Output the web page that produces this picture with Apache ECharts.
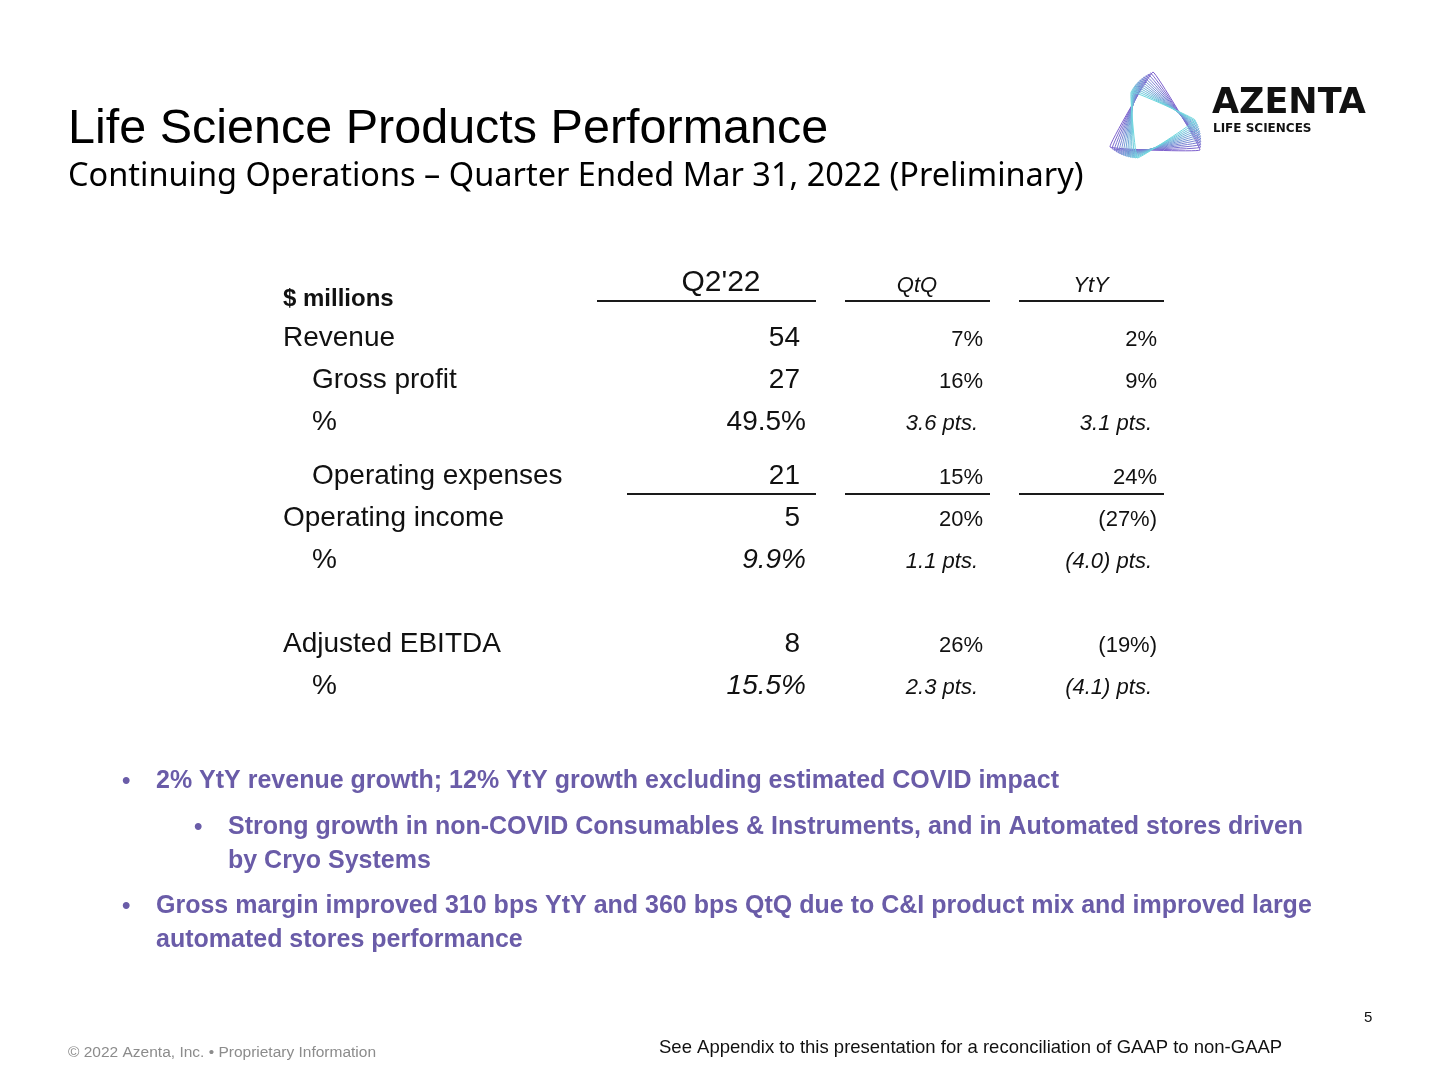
<!DOCTYPE html>
<html><head><meta charset="utf-8">
<script src="https://cdn.jsdelivr.net/npm/echarts@6/dist/echarts.min.js"></script>
<style>html,body{margin:0;padding:0;background:#fff}#c{width:1440px;height:1080px}</style>
</head><body><div id="c"></div>
<script>
// ---------- data ----------
const columns = ["Q2'22", 'QtQ', 'YtY'];
const rowLabelsTop = ['$ millions', 'Revenue', 'Gross profit', '%'];
const rowLabelsBottom = ['Operating expenses', 'Operating income', '%', '', 'Adjusted EBITDA', '%'];
const metrics = ['Revenue', 'Gross profit', 'Gross margin', 'Operating expenses', 'Operating income', 'Operating margin', 'Adjusted EBITDA', 'Adjusted EBITDA margin'];
const metricKind = ['amount', 'amount', 'margin', 'amount', 'amount', 'margin', 'amount', 'margin'];
const q2Values = [54, 27, 49.5, 21, 5, 9.9, 8, 15.5];
const qtqChange = [7, 16, 3.6, 15, 20, 1.1, 26, 2.3];
const ytyChange = [2, 9, 3.1, 24, -27, -4.0, -19, -4.1];
// which table (0 = upper, 1 = lower) and row slot each metric sits in
const metricSlot = [[0, 1], [0, 2], [0, 3], [1, 0], [1, 1], [1, 2], [1, 4], [1, 5]];
const bullets = [
  { level: 0, lines: ['2% YtY revenue growth; 12% YtY growth excluding estimated COVID impact'] },
  { level: 1, lines: ['Strong growth in non-COVID Consumables & Instruments, and in Automated stores driven', 'by Cryo Systems'] },
  { level: 0, lines: ['Gross margin improved 310 bps YtY and 360 bps QtQ due to C&I product mix and improved large', 'automated stores performance'] }
];

// ---------- styles ----------
const FONT = "'Liberation Sans', Arial, sans-serif";
const INK = '#111111';
const PURPLE = '#6a5ca8';
const indentTop = [0, 0, 1, 1];
const indentBottom = [1, 0, 1, 0, 0, 1];
const q2Italic = [false, false, false, false, false, true, false, true];

function fmtQ2(v, kind) { return kind === 'margin' ? v.toFixed(1) + '%' : String(v); }
function fmtChange(v, kind) {
  if (kind === 'margin') {
    const s = Math.abs(v).toFixed(1);
    return v < 0 ? '(' + s + ') pts.' : s + ' pts.';
  }
  return v < 0 ? '(' + Math.abs(v) + '%)' : v + '%';
}

const cells = [];
metrics.forEach((m, i) => {
  const [g, r] = metricSlot[i];
  const k = metricKind[i];
  cells.push({ g, r, c: 0, text: fmtQ2(q2Values[i], k), kind: k, italic: q2Italic[i] });
  cells.push({ g, r, c: 1, text: fmtChange(qtqChange[i], k), kind: k, italic: k === 'margin' });
  cells.push({ g, r, c: 2, text: fmtChange(ytyChange[i], k), kind: k, italic: k === 'margin' });
});

function cellSeries(g) {
  const list = cells.filter(d => d.g === g);
  return {
    type: 'custom', xAxisIndex: g, yAxisIndex: g, silent: true,
    data: list.map(d => [d.c, d.r]),
    encode: { x: 0, y: 1 },
    renderItem: function (params, api) {
      const d = list[params.dataIndex];
      const p = api.coord([d.c, d.r]);
      const bw = api.size([1, 0])[0];
      const right = p[0] + bw / 2;
      let size, pad, dy;
      if (d.c === 0) { size = 28; pad = d.kind === 'margin' ? 24 : 30; dy = 0; }
      else { size = 22; pad = d.kind === 'margin' ? 26 : 21; dy = 2; }
      return {
        type: 'text',
        style: {
          x: right - pad, y: p[1] + dy, text: d.text,
          font: (d.italic ? 'italic ' : '') + size + 'px ' + FONT,
          fill: INK, align: 'right', verticalAlign: 'middle'
        }
      };
    }
  };
}

function headerSeries() {
  return {
    type: 'custom', xAxisIndex: 0, yAxisIndex: 0, silent: true,
    data: columns.map((c, i) => [i, 0]),
    encode: { x: 0, y: 1 },
    renderItem: function (params, api) {
      const i = params.dataIndex;
      const p = api.coord([i, 0]);
      const bw = api.size([1, 0])[0];
      const left = p[0] - bw / 2, right = p[0] + bw / 2;
      const x1 = i === 0 ? left - 59 : left + 15;
      const x2 = right - 14;
      return {
        type: 'group',
        children: [
          { type: 'text', style: {
              x: i === 0 ? p[0] - 22 : p[0], y: i === 0 ? p[1] - 13 : p[1] - 10,
              text: columns[i],
              font: (i === 0 ? '' : 'italic ') + (i === 0 ? 30 : 22) + 'px ' + FONT,
              fill: INK, align: 'center', verticalAlign: 'middle' } },
          { type: 'line', shape: { x1: x1, y1: p[1] + 5, x2: x2, y2: p[1] + 5 },
            style: { stroke: '#1a1a1a', lineWidth: 2 } }
        ]
      };
    }
  };
}

function ruleSeries() {
  return {
    type: 'custom', xAxisIndex: 1, yAxisIndex: 1, silent: true,
    data: columns.map((c, i) => [i, 0]),
    encode: { x: 0, y: 1 },
    renderItem: function (params, api) {
      const i = params.dataIndex;
      const p = api.coord([i, 0]);
      const bw = api.size([1, 0])[0];
      const left = p[0] - bw / 2, right = p[0] + bw / 2;
      const x1 = i === 0 ? left - 29 : left + 15;
      return { type: 'line', shape: { x1: x1, y1: p[1] + 18, x2: right - 14, y2: p[1] + 18 },
        style: { stroke: '#1a1a1a', lineWidth: 2 } };
    }
  };
}

function yAxisFor(g, labels, indent) {
  return {
    gridIndex: g, type: 'category', data: labels, inverse: true,
    axisLine: { show: false }, axisTick: { show: false }, splitLine: { show: false },
    axisLabel: {
      interval: 0, align: 'left', margin: 656 - 283,
      formatter: function (v, idx) {
        if (g === 0 && idx === 0) return '{hdr|' + v + '}';
        return indent[idx] ? '{ind|' + v + '}' : '{base|' + v + '}';
      },
      rich: {
        base: { fontSize: 28, fontFamily: FONT, color: INK },
        ind: { fontSize: 28, fontFamily: FONT, color: INK, padding: [0, 0, 0, 29] },
        hdr: { fontSize: 24, fontWeight: 'bold', fontFamily: FONT, color: INK, padding: [6, 0, 0, 0] }
      }
    }
  };
}

function xAxisFor(g) {
  return { gridIndex: g, type: 'category', data: columns, show: false };
}

// ---------- logo ----------
function logo() {
  const cx = 1155, cy = 123;
  const base = [[-2, -51], [-45, 24], [45, 27]];
  const children = [];
  const n = 13;
  const c1 = [125, 95, 205], c2 = [110, 215, 222];
  for (let k = 0; k < n; k++) {
    const t = k / (n - 1);
    const ang = -t * 0.61;
    const s = 1 - t * 0.23;
    const pts = base.map(([x, y]) => [cx + s * (x * Math.cos(ang) - y * Math.sin(ang)), cy + s * (x * Math.sin(ang) + y * Math.cos(ang))]);
    const col = 'rgb(' + c1.map((v, j) => Math.round(v + (c2[j] - v) * t)).join(',') + ')';
    children.push({ type: 'polygon', shape: { points: pts, smooth: 0.06 }, style: { fill: 'none', stroke: col, lineWidth: 1 } });
  }
  children.push({ type: 'text', style: { x: 1212, y: 104, text: 'AZENTA', font: "bold 35px 'DejaVu Sans', sans-serif", fill: '#111', verticalAlign: 'middle' } });
  children.push({ type: 'text', style: { x: 1213, y: 129, text: 'LIFE SCIENCES', font: "bold 12px 'DejaVu Sans', sans-serif", fill: '#111', verticalAlign: 'middle' } });
  return { type: 'group', children: children, silent: true };
}

// ---------- bullets ----------
function bulletGraphics() {
  const out = [];
  const rowsY = [[781], [827, 861], [906, 940]];
  bullets.forEach((b, i) => {
    const bx = b.level === 0 ? 122 : 194;
    const tx = b.level === 0 ? 156 : 228;
    out.push({ type: 'text', style: { x: bx, y: rowsY[i][0], text: '•', font: 'bold 24px ' + FONT, fill: PURPLE, verticalAlign: 'middle' } });
    b.lines.forEach((ln, j) => {
      out.push({ type: 'text', style: { x: tx, y: rowsY[i][j], text: ln, font: 'bold 25px ' + FONT, fill: PURPLE, verticalAlign: 'middle' } });
    });
  });
  return out;
}

const chart = echarts.init(document.getElementById('c'), null, { renderer: 'canvas' });
chart.setOption({
  backgroundColor: '#ffffff',
  animation: false,
  grid: [
    { left: 656, width: 522, top: 275, height: 168 },
    { left: 656, width: 522, top: 455, height: 252 }
  ],
  xAxis: [xAxisFor(0), xAxisFor(1)],
  yAxis: [yAxisFor(0, rowLabelsTop, indentTop), yAxisFor(1, rowLabelsBottom, indentBottom)],
  series: [headerSeries(), ruleSeries(), cellSeries(0), cellSeries(1)],
  graphic: [
    { type: 'text', style: { x: 68, y: 130, text: 'Life Science Products Performance', font: '48.5px ' + FONT, fill: '#000', verticalAlign: 'middle' } },
    { type: 'text', style: { x: 68, y: 177, text: 'Continuing Operations \u2013 Quarter Ended Mar 31, 2022 (Preliminary)', font: "32.5px 'Noto Sans', " + FONT, fill: '#000', verticalAlign: 'middle' } },
    logo(),
    ...bulletGraphics(),
    { type: 'text', style: { x: 68, y: 1053, text: '\u00a9 2022 Azenta, Inc. \u2022 Proprietary Information', font: '15.5px ' + FONT, fill: '#8c8c8c', verticalAlign: 'middle' } },
    { type: 'text', style: { x: 659, y: 1048, text: 'See Appendix to this presentation for a reconciliation of GAAP to non-GAAP', font: '18.5px ' + FONT, fill: '#111', verticalAlign: 'middle' } },
    { type: 'text', style: { x: 1364, y: 1018, text: '5', font: '15px ' + FONT, fill: '#111', verticalAlign: 'middle' } }
  ]
});
</script></body></html>
